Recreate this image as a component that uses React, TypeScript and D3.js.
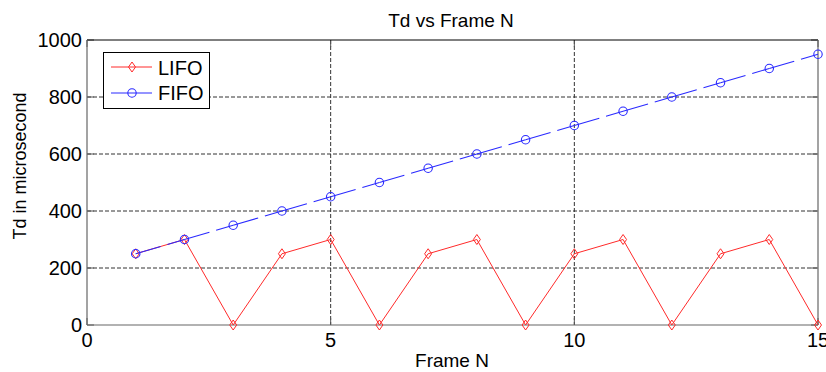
import React from "react";
import * as d3 from "d3";

const frames = [1, 2, 3, 4, 5, 6, 7, 8, 9, 10, 11, 12, 13, 14, 15];
const lifo = [250, 300, 0, 250, 300, 0, 250, 300, 0, 250, 300, 0, 250, 300, 0];
const fifo = [250, 300, 350, 400, 450, 500, 550, 600, 650, 700, 750, 800, 850, 900, 950];
const xTicks = [0, 5, 10, 15];
const yTicks = [0, 200, 400, 600, 800, 1000];
const seriesNames = ["LIFO", "FIFO"];

const W = 826, H = 372;
const L = 87, R = 818, T = 40, B = 325;
const FONT = "Arial, 'Liberation Sans', Helvetica, sans-serif";
const RED = "#ff2a2a";
const BLUE = "#2a2aff";

export default function App() {
  const x = d3.scaleLinear().domain([0, 15]).range([L, R]);
  const y = d3.scaleLinear().domain([0, 1000]).range([B, T]);

  const lifoPts = frames.map((f, i) => [x(f), y(lifo[i])] as [number, number]);
  const fifoPts = frames.map((f, i) => [x(f), y(fifo[i])] as [number, number]);
  const line = d3.line();

  const diamond = (cx: number, cy: number, key: string) => (
    <path
      key={key}
      d={`M${cx},${cy - 5}L${cx + 3.5},${cy}L${cx},${cy + 5}L${cx - 3.5},${cy}Z`}
      fill="none"
      stroke={RED}
      strokeWidth={1}
    />
  );

  return (
    <svg
      width={W}
      height={H}
      style={{ position: "absolute", left: 0, top: 0, background: "#fff" }}
      fontFamily={FONT}
    >
      <rect x={0} y={0} width={W} height={H} fill="#fff" />
      {/* grid */}
      {yTicks.filter((t) => t > 0 && t < 1000).map((t) => (
        <line key={"gy" + t} x1={L} x2={R} y1={y(t)} y2={y(t)} stroke="#333" strokeWidth={1} strokeDasharray="4,2" />
      ))}
      {xTicks.filter((t) => t > 0 && t < 15).map((t) => (
        <line key={"gx" + t} x1={x(t)} x2={x(t)} y1={T} y2={B} stroke="#333" strokeWidth={1} strokeDasharray="4,2" />
      ))}
      {/* ticks inside */}
      {yTicks.map((t) => (
        <g key={"ty" + t}>
          <line x1={L} x2={L + 7} y1={y(t)} y2={y(t)} stroke="#555" />
          <line x1={R} x2={R - 7} y1={y(t)} y2={y(t)} stroke="#555" />
        </g>
      ))}
      {xTicks.map((t) => (
        <g key={"tx" + t}>
          <line x1={x(t)} x2={x(t)} y1={B} y2={B - 7} stroke="#555" />
          <line x1={x(t)} x2={x(t)} y1={T} y2={T + 7} stroke="#555" />
        </g>
      ))}
      {/* frame */}
      <line x1={L} x2={R} y1={T} y2={T} stroke="#000" strokeWidth={1} />
      <line x1={L} x2={L} y1={T} y2={B} stroke="#666" strokeWidth={1.2} />
      <line x1={R} x2={R} y1={T} y2={B} stroke="#666" strokeWidth={1.2} />
      <line x1={L} x2={R} y1={B} y2={B} stroke="#666" strokeWidth={1.2} />

      {/* LIFO */}
      <path d={line(lifoPts) || ""} fill="none" stroke={RED} strokeWidth={1} />
      {lifoPts.map((p, i) => diamond(p[0], p[1], "d" + i))}

      {/* FIFO dashed, pattern restarting at each vertex */}
      {fifoPts.slice(1).map((p, i) => (
        <path
          key={"fs" + i}
          d={line([fifoPts[i], p]) || ""}
          fill="none"
          stroke={BLUE}
          strokeWidth={1.1}
          strokeDasharray="26,7"
        />
      ))}
      {fifoPts.map((p, i) => (
        <circle key={"c" + i} cx={p[0]} cy={p[1]} r={4.2} fill="none" stroke={BLUE} strokeWidth={1.1} />
      ))}

      {/* tick labels */}
      {yTicks.map((t) => (
        <text key={"ly" + t} x={82} y={y(t)} dy="0.36em" textAnchor="end" fontSize={20} fill="#000">
          {t}
        </text>
      ))}
      {xTicks.map((t) => (
        <text key={"lx" + t} x={x(t)} y={347} textAnchor="middle" fontSize={20} fill="#000">
          {t}
        </text>
      ))}

      {/* titles */}
      <text x={451} y={27} textAnchor="middle" fontSize={19} fill="#000">
        Td vs Frame N
      </text>
      <text x={452} y={367} textAnchor="middle" fontSize={19} fill="#000">
        Frame N
      </text>
      <text
        transform={`translate(26,166) rotate(-90)`}
        textAnchor="middle"
        fontSize={18}
        fill="#000"
      >
        Td in microsecond
      </text>

      {/* legend */}
      <rect x={103.5} y={52.5} width={106} height={56} fill="#fff" stroke="#000" strokeWidth={1} />
      <line x1={111} x2={152} y1={67} y2={67} stroke={RED} strokeWidth={1} />
      {diamond(132, 67, "ld")}
      <text x={158} y={75} fontSize={20} fill="#000">{seriesNames[0]}</text>
      <line x1={111} x2={152} y1={93} y2={93} stroke={BLUE} strokeWidth={1.1} />
      <circle cx={132} cy={93} r={4.2} fill="none" stroke={BLUE} strokeWidth={1.1} />
      <text x={158} y={100} fontSize={20} fill="#000">{seriesNames[1]}</text>
    </svg>
  );
}
